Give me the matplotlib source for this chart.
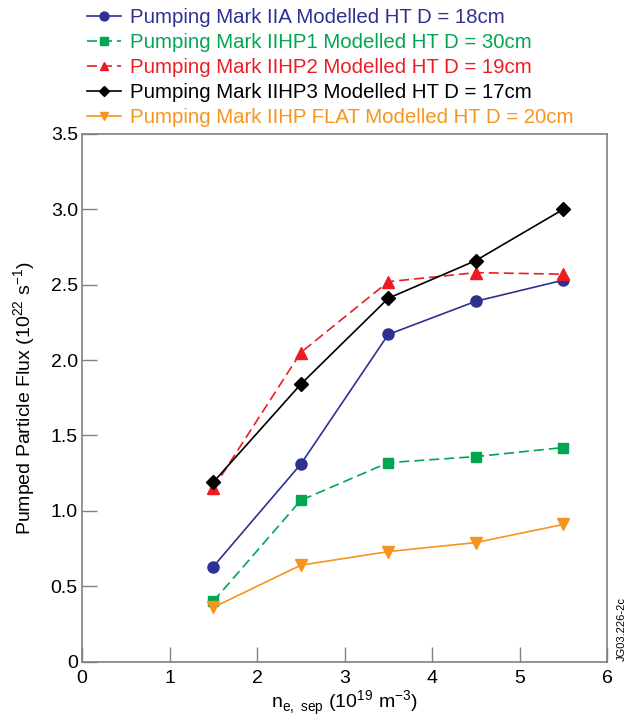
import matplotlib.pyplot as plt

plt.rcParams['font.family'] = ['Liberation Sans', 'DejaVu Sans']

density = [1.5, 2.5, 3.5, 4.5, 5.5]

flux_iia = [0.63, 1.31, 2.17, 2.39, 2.53]
flux_iihp1 = [0.40, 1.07, 1.32, 1.36, 1.42]
flux_iihp2 = [1.15, 2.05, 2.52, 2.58, 2.57]
flux_iihp3 = [1.19, 1.84, 2.41, 2.66, 3.00]
flux_flat = [0.36, 0.64, 0.73, 0.79, 0.91]

labels = [
    "Pumping Mark IIA Modelled HT D = 18cm",
    "Pumping Mark IIHP1 Modelled HT D = 30cm",
    "Pumping Mark IIHP2 Modelled HT D = 19cm",
    "Pumping Mark IIHP3 Modelled HT D = 17cm",
    "Pumping Mark IIHP FLAT Modelled HT D = 20cm",
]

fig = plt.figure(figsize=(6.31, 7.2), dpi=100)
ax = fig.add_axes([0.130, 0.081, 0.832, 0.733])

ax.plot(density, flux_iia, c='#2e3192', marker='o', ms=8, lw=1.2, label=labels[0])
ax.plot(density, flux_iihp1, c='#00a651', marker='s', ms=7, lw=1.2, ls=(0, (6, 3)), label=labels[1])
ax.plot(density, flux_iihp2, c='#ed1c24', marker='^', ms=8, lw=1.2, ls=(0, (6, 3)), label=labels[2])
ax.plot(density, flux_iihp3, c='black', marker='D', ms=7, lw=1.2, label=labels[3])
ax.plot(density, flux_flat, c='#f7941d', marker='v', ms=8, lw=1.2, label=labels[4])

# Format plot
ax.set_xlim(0, 6)
ax.set_ylim(0, 3.5)
ax.set_xticks(range(7))
ax.set_yticks([0, 0.5, 1.0, 1.5, 2.0, 2.5, 3.0, 3.5])
ax.set_yticklabels(['0', '0.5', '1.0', '1.5', '2.0', '2.5', '3.0', '3.5'])
ax.tick_params(direction='in', length=11, width=1, color='#808080', labelsize=14, pad=3)
ax.tick_params(axis='x', pad=6)
for s in ax.spines.values():
    s.set_color('#808080')
    s.set_linewidth(1.2)

ax.set_xlabel(r"n$_{\mathregular{e,\ sep}}$ (10$^{\mathregular{19}}$ m$^{\mathregular{-3}}$)",
              fontsize=14, labelpad=1)
ax.set_ylabel(r"Pumped Particle Flux (10$^{\mathregular{22}}$ s$^{\mathregular{-1}}$)",
              fontsize=14, labelpad=9)

fig.legend(loc='upper left', bbox_to_anchor=(0.118, 1.006), frameon=False,
           labelcolor='linecolor', fontsize=14.7, handlelength=1.7, markerscale=0.8,
           handletextpad=0.4, labelspacing=0.3, borderaxespad=0.2)

fig.text(0.985, 0.082, "JG03.226-2c", rotation=90, fontsize=8, ha='center', va='bottom')

fig.savefig('out.png', dpi=100)
